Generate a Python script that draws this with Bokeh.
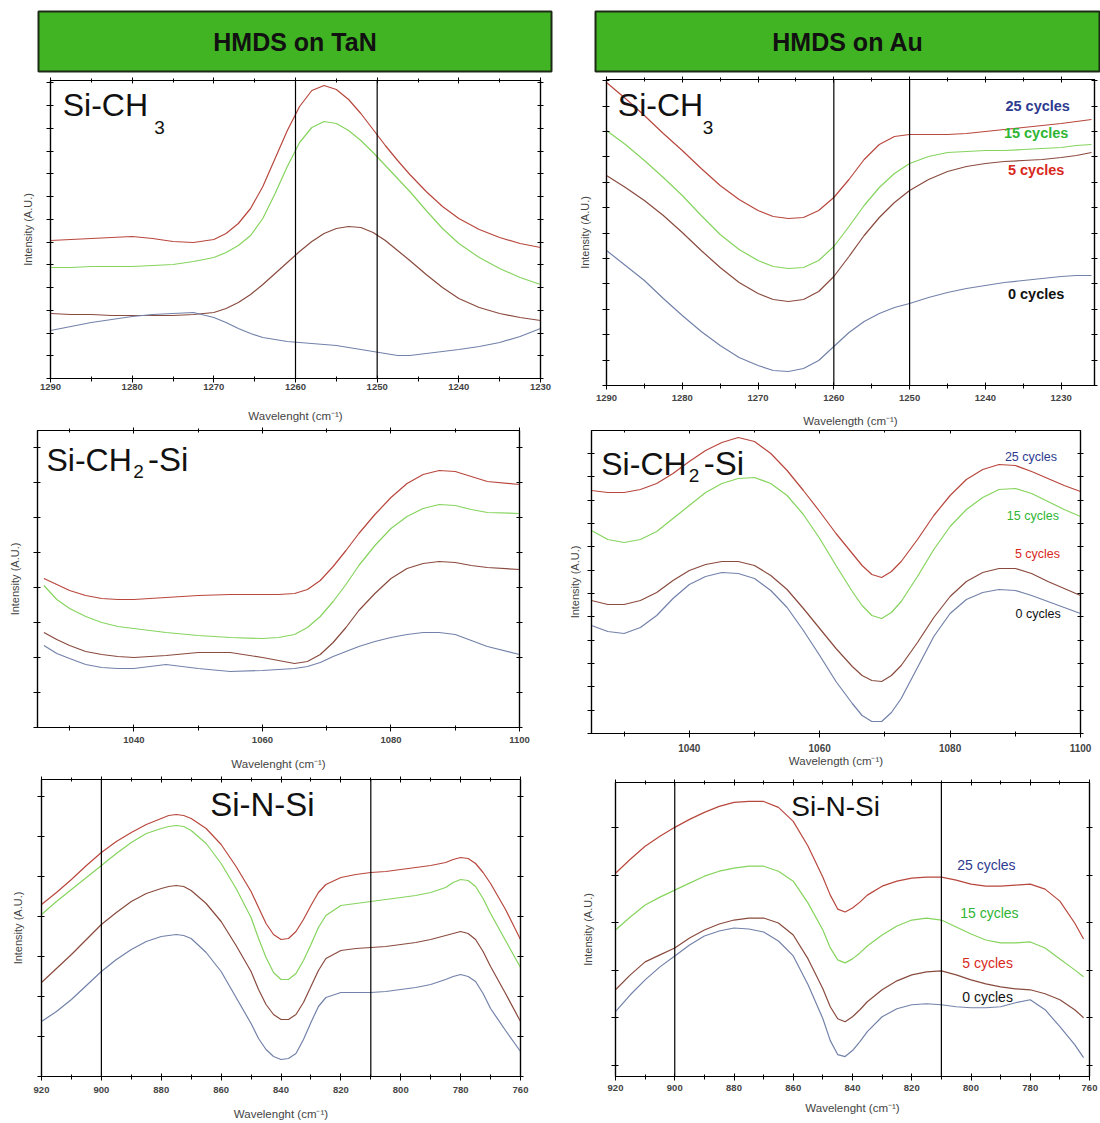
from bokeh.plotting import figure
from bokeh.layouts import column, row
from bokeh.models import Range1d, LinearAxis, FixedTicker, Span, Label, CustomLabelingPolicy
from bokeh.embed import file_html
from bokeh.resources import INLINE
import numpy as np

FONT = "Liberation Sans"
C25, C15, C5, C0 = "#b8473d", "#86d45e", "#8a4b3f", "#7382aa"
LBL25, LBL15, LBL5, LBL0 = "#2e3b8f", "#2fb534", "#d8281c", "#111111"
GREEN = "#41b423"

series_names = ["25 cycles", "15 cycles", "5 cycles", "0 cycles"]

# ---------- Panel 1 : Si-CH3 on TaN ----------
p1_wn = [1290, 1287.5, 1285, 1282.5, 1280, 1277.5, 1275, 1272.5, 1270, 1268.5, 1267, 1265.5, 1264, 1262.5, 1261, 1259.5,
         1258, 1256.5, 1255, 1253.5, 1252, 1250.5, 1249, 1247.5, 1246, 1244, 1242, 1240, 1237.5, 1235, 1232.5, 1230]
p1_25 = [138, 139, 140, 141, 142, 140, 137, 136, 139, 145, 155, 170, 192, 220, 248, 272,
         288, 293, 289, 279, 265, 249, 233, 218, 204, 187, 172, 160, 149, 141, 135, 131]
p1_15 = [111, 111, 112, 112, 112, 113, 114, 117, 121, 126, 133, 143, 160, 185, 212, 236,
         251, 257, 255, 248, 238, 226, 213, 200, 187, 168, 150, 135, 121, 110, 101, 94]
p1_5 = [65, 64, 64, 63, 63, 63, 63, 64, 66, 70, 76, 84, 94, 105, 116, 127,
        137, 145, 150, 152, 151, 146, 138, 128, 118, 104, 91, 80, 71, 65, 61, 58]
p1_0 = [48, 52, 56, 59, 62, 64, 65, 66, 61, 56, 50, 45, 41, 39, 37, 36,
        35, 34, 33, 31, 29, 27, 25, 23, 23, 25, 27, 29, 32, 36, 42, 50]

# ---------- Panel 2 : Si-CH3 on Au ----------
p2_wn = [1290, 1287.5, 1285, 1282.5, 1280, 1277.5, 1275, 1272.5, 1270, 1268, 1266, 1264, 1262, 1260, 1258, 1256, 1254,
         1252, 1250, 1247.5, 1245, 1242.5, 1240, 1237.5, 1235, 1232.5, 1230, 1228, 1226]
p2_25 = [303, 287, 270, 252, 235, 217, 200, 186, 175, 169, 167, 168, 175, 188, 206, 226, 241,
         249, 251, 251, 251, 252, 254, 256, 258, 260, 262, 264, 266]
p2_15 = [255, 241, 225, 208, 190, 170, 151, 136, 125, 119, 117, 118, 125, 139, 159, 180, 198,
         212, 222, 229, 233, 234, 235, 235, 236, 237, 238, 240, 241]
p2_5 = [210, 198, 185, 170, 153, 135, 118, 103, 92, 86, 84, 86, 94, 109, 129, 150, 168,
        183, 195, 206, 214, 219, 222, 224, 225, 226, 228, 230, 233]
p2_0 = [135, 120, 105, 87, 70, 54, 40, 28, 20, 15, 14, 17, 25, 39, 53, 64, 72,
        78, 82, 88, 93, 97, 100, 103, 105, 107, 109, 110, 110]

# ---------- Panel 3 : Si-CH2-Si on TaN ----------
p3_wn = [1026, 1028, 1030, 1032.5, 1035, 1037.5, 1040, 1045, 1050, 1055, 1060, 1062.5, 1065, 1067, 1069, 1071, 1073,
         1075, 1077.5, 1080, 1082.5, 1085, 1087.5, 1090, 1092.5, 1095, 1100]
p3_25 = [149, 143, 137, 132, 129, 128, 128, 130, 132, 133, 133, 133, 134, 138, 147, 161, 177,
         194, 213, 230, 244, 253, 257, 256, 251, 246, 243]
p3_15 = [142, 128, 119, 111, 105, 101, 99, 95, 92, 90, 89, 90, 93, 100, 111, 126, 143,
         162, 182, 199, 211, 219, 223, 222, 218, 215, 214]
p3_5 = [95, 88, 82, 76, 73, 71, 70, 72, 75, 75, 70, 67, 64, 66, 73, 85, 100,
        117, 134, 149, 159, 164, 166, 165, 162, 160, 158]
p3_0 = [82, 74, 69, 63, 60, 59, 59, 63, 59, 56, 57, 58, 59, 61, 65, 71, 76,
        81, 86, 90, 93, 95, 95, 93, 87, 81, 73]

# ---------- Panel 4 : Si-CH2-Si on Au ----------
p4_wn = [1025, 1027.5, 1030, 1032.5, 1035, 1037.5, 1040, 1042.5, 1045, 1047.5, 1050, 1052.5, 1055, 1057.5, 1060, 1062.5,
         1065, 1066.5, 1068, 1069.5, 1071, 1072.5, 1075, 1077.5, 1080, 1082.5, 1085, 1087.5, 1090, 1092.5, 1095, 1097.5, 1100]
p4_25 = [243, 241, 241, 244, 250, 260, 272, 283, 291, 296, 292, 280, 263, 243, 222, 200,
         180, 168, 159, 156, 162, 172, 194, 218, 238, 254, 264, 269, 268, 262, 255, 248, 242]
p4_15 = [203, 194, 191, 194, 202, 215, 228, 241, 250, 255, 256, 250, 238, 219, 195, 168,
         142, 128, 118, 115, 121, 132, 157, 184, 207, 224, 236, 244, 245, 240, 232, 224, 217]
p4_5 = [133, 129, 129, 133, 141, 153, 163, 169, 172, 172, 168, 158, 144, 125, 105, 85,
        67, 58, 53, 52, 58, 68, 91, 116, 137, 152, 161, 165, 165, 160, 152, 145, 138]
p4_0 = [108, 102, 100, 106, 118, 135, 149, 157, 161, 160, 155, 143, 126, 103, 78, 52,
        30, 18, 12, 12, 21, 35, 66, 97, 120, 134, 141, 144, 143, 138, 132, 126, 120]

# ---------- Panel 5 : Si-N-Si on TaN ----------
p5_wn = [920, 915, 910, 905, 900, 895, 890, 885, 880, 877.5, 875, 872.5, 870, 865, 860, 855, 850, 847.5, 845, 842.5,
         840, 837.5, 835, 832.5, 830, 827.5, 825, 820, 815, 810, 805, 800, 795, 790, 785, 782.5, 780, 777.5, 775,
         772.5, 770, 765, 760]
p5_25 = [172, 184, 197, 211, 224, 235, 244, 252, 258, 261, 262, 261, 258, 248, 232, 210, 185, 169, 153, 142,
         137, 138, 145, 157, 171, 184, 192, 199, 202, 204, 205, 207, 209, 211, 214, 217, 219, 218, 213,
         204, 193, 167, 137]
p5_15 = [162, 175, 187, 199, 211, 223, 234, 243, 248, 250, 251, 250, 246, 233, 213, 188, 159, 138, 119, 104,
         97, 97, 103, 116, 132, 149, 161, 171, 173, 175, 177, 179, 181, 184, 189, 194, 197, 196, 190,
         178, 163, 136, 109]
p5_5 = [94, 108, 122, 137, 152, 164, 175, 183, 188, 190, 191, 190, 186, 173, 155, 131, 105, 87, 72, 62,
        57, 57, 62, 74, 90, 106, 118, 126, 128, 129, 130, 132, 134, 137, 141, 143, 145, 143, 137,
        125, 110, 83, 55]
p5_0 = [55, 65, 77, 91, 105, 117, 127, 135, 140, 141, 142, 141, 138, 124, 105, 79, 53, 38, 27, 20,
        17, 18, 23, 37, 54, 70, 79, 84, 84, 84, 85, 87, 89, 92, 97, 100, 102, 100, 95,
        83, 68, 46, 25]

# ---------- Panel 6 : Si-N-Si on Au ----------
p6_wn = [920, 915, 910, 905, 900, 895, 890, 885, 880, 875, 870, 865, 860, 855, 850, 847.5, 845, 842.5, 840, 837.5,
         835, 830, 825, 820, 815, 810, 805, 800, 795, 790, 785, 780, 775, 770, 765, 762]
p6_25 = [204, 218, 231, 241, 250, 258, 265, 271, 275, 276, 276, 270, 256, 231, 200, 182, 168, 165, 169, 175,
         182, 191, 196, 199, 200, 200, 197, 193, 191, 191, 192, 193, 188, 176, 154, 138]
p6_15 = [147, 160, 172, 180, 187, 194, 201, 206, 209, 211, 211, 206, 196, 174, 147, 129, 117, 114, 118, 124,
         131, 142, 151, 157, 159, 157, 150, 143, 137, 134, 134, 135, 129, 118, 107, 100]
p6_5 = [87, 102, 115, 122, 129, 139, 147, 153, 157, 159, 159, 154, 142, 118, 88, 70, 58, 55, 60, 67,
        75, 87, 96, 102, 105, 106, 102, 97, 93, 90, 88, 87, 83, 77, 67, 59]
p6_0 = [65, 82, 97, 110, 121, 132, 141, 146, 149, 148, 145, 136, 121, 92, 58, 36, 22, 20, 26, 35,
        45, 60, 68, 72, 73, 72, 70, 69, 69, 70, 74, 77, 67, 50, 32, 19]

# tick labels
ch3_ticks = [1290, 1280, 1270, 1260, 1250, 1240, 1230]
ch3_minor = [1285, 1275, 1265, 1255, 1245, 1235]
ch2_ticks = [1040, 1060, 1080, 1100]
ch2_minor = [1030, 1050, 1070, 1090]
sin_ticks = [920, 900, 880, 860, 840, 820, 800, 780, 760]
sin_minor = [910, 890, 870, 850, 830, 810, 790, 770]
ch3_marks = [1260, 1250]
sin_marks = [900, 810]

NO_LABELS = CustomLabelingPolicy(code="return []")


def no_align(p):
    if "frame_align" in p.properties():
        p.frame_align = False


def header(text, w, left, right):
    p = figure(width=w, height=76, x_range=Range1d(0, 1), y_range=Range1d(0, 1),
               output_backend="svg", toolbar_location=None,
               x_axis_location=None, y_axis_location=None,
               min_border_left=left, min_border_right=right,
               min_border_top=11, min_border_bottom=5)
    no_align(p)
    p.xgrid.visible = False
    p.ygrid.visible = False
    p.background_fill_color = GREEN
    p.border_fill_color = "white"
    p.outline_line_color = "#1d2b16"
    p.outline_line_width = 2
    p.add_layout(Label(x=0.5, y=0.5, text=text, text_align="center", text_baseline="middle",
                       text_font=FONT, text_font_size="25px", text_font_style="bold",
                       text_color="#111111"))
    return p


def style_axis(ax, ticker, tin=3, tout=4):
    ax.ticker = ticker
    ax.axis_line_color = "black"
    ax.axis_line_width = 1.2
    ax.major_tick_line_color = "black"
    ax.minor_tick_line_color = "black"
    ax.major_tick_in = tin
    ax.major_tick_out = tout
    ax.minor_tick_in = 2
    ax.minor_tick_out = max(tout - 1, 0)


def hide_labels(ax):
    ax.major_label_text_font_size = "0px"
    ax.major_label_standoff = 0
    ax.major_label_policy = NO_LABELS


def panel(w, h, left, right, top, bottom, xr, yr, wn, ys, xticks, xminor, ystep, yoff,
          xlabel, tick_standoff, label_standoff, ylabel_standoff, ylabel_size,
          tick_font="9.5px", top_out=3):
    p = figure(width=w, height=h, x_range=Range1d(*xr), y_range=Range1d(*yr),
               output_backend="svg", toolbar_location=None,
               min_border_left=left, min_border_right=right,
               min_border_top=top, min_border_bottom=bottom)
    no_align(p)
    p.xgrid.visible = False
    p.ygrid.visible = False
    p.outline_line_color = "black"
    p.outline_line_width = 1.2
    p.background_fill_color = "white"
    xt = FixedTicker(ticks=xticks, minor_ticks=xminor)
    yt = FixedTicker(ticks=list(np.arange(yoff, yr[1], ystep)), minor_ticks=[])
    bx = p.xaxis[0]
    style_axis(bx, xt)
    bx.major_label_text_font = FONT
    bx.major_label_text_font_size = tick_font
    bx.major_label_text_font_style = "bold"
    bx.major_label_standoff = tick_standoff
    bx.axis_label = xlabel
    bx.axis_label_text_font = FONT
    bx.axis_label_text_font_size = "11.5px"
    bx.axis_label_text_font_style = "normal"
    bx.axis_label_standoff = label_standoff
    ly = p.yaxis[0]
    style_axis(ly, yt)
    hide_labels(ly)
    ly.axis_label = "Intensity (A.U.)"
    ly.axis_label_text_font = FONT
    ly.axis_label_text_font_size = ylabel_size
    ly.axis_label_text_font_style = "normal"
    ly.axis_label_standoff = ylabel_standoff
    ta = LinearAxis()
    style_axis(ta, xt, tin=3, tout=top_out)
    hide_labels(ta)
    p.add_layout(ta, "above")
    ra = LinearAxis()
    style_axis(ra, yt, tin=3, tout=3)
    hide_labels(ra)
    p.add_layout(ra, "right")
    for y, c in zip(ys, [C25, C15, C5, C0]):
        p.line(wn, y, line_color=c, line_width=1.2)
    return p


def title(p, parts):
    for txt, x, y, size in parts:
        p.add_layout(Label(x=x, y=y, text=txt, text_font=FONT, text_font_size=size,
                           text_color="#111111", text_baseline="alphabetic", text_align="left"))


def cycle_labels(p, xs, ys, size, bold):
    for txt, x, y, c in zip(series_names, xs, ys, [LBL25, LBL15, LBL5, LBL0]):
        p.add_layout(Label(x=x, y=y, text=txt, text_font=FONT, text_font_size=size,
                           text_font_style="bold" if bold else "normal",
                           text_color=c, text_align="center", text_baseline="middle"))


def marks(p, locs):
    for loc in locs:
        p.add_layout(Span(location=loc, dimension="height", line_color="black", line_width=1.2))


# ---- build ----
hL = header("HMDS on TaN", 565, 38, 14)
hR = header("HMDS on Au", 535, 30, 0)

P1 = panel(565, 349, 50, 25, 4, 47, (1290, 1230), (0, 298), p1_wn, [p1_25, p1_15, p1_5, p1_0],
           ch3_ticks, ch3_minor, 22.75, 0, "Wavelenght (cm\u207b\u00b9)", 1, 17, 13, "11px")
marks(P1, ch3_marks)
title(P1, [("Si-CH", 1288.5, 274, "32px"), ("3", 1277.3, 251, "19px")])

P2 = panel(535, 353, 41, 6, 3, 44, (1290, 1225.6), (0, 306), p2_wn, [p2_25, p2_15, p2_5, p2_0],
           ch3_ticks, ch3_minor, 25.4, 0, "Wavelength (cm\u207b\u00b9)", 5, 11, 12, "11px")
marks(P2, ch3_marks)
title(P2, [("Si-CH", 1288.5, 281, "32px"), ("3", 1277.3, 258, "19px")])
cycle_labels(P2, [1233.1, 1233.3, 1233.3, 1233.3], [280, 253, 216, 92], "14.5px", True)

P3 = panel(565, 348, 37, 46, 5, 46, (1025, 1100), (0, 297), p3_wn, [p3_25, p3_15, p3_5, p3_0],
           ch2_ticks, ch2_minor, 35, 0, "Wavelenght (cm\u207b\u00b9)", 5, 12, 13, "11px")
title(P3, [("Si-CH", 1026.4, 268, "32px"), ("2", 1039.9, 256, "19px"), ("-Si", 1042.2, 268, "33px")])

P4 = panel(535, 341, 26, 20, 1, 37, (1025, 1100), (0, 303), p4_wn, [p4_25, p4_15, p4_5, p4_0],
           ch2_ticks, ch2_minor, 23.35, 0, "Wavelength (cm\u207b\u00b9)", 6, 0, 7, "11px",
           tick_font="10px", top_out=0)
title(P4, [("Si-CH", 1026.5, 270, "32px"), ("2", 1039.9, 258, "19px"), ("-Si", 1042.2, 270, "33px")])
cycle_labels(P4, [1092.4, 1092.7, 1093.4, 1093.5], [277, 218, 180, 120], "12.5px", False)

P5 = panel(565, 350, 41, 45, 6, 47, (920, 760), (0, 297), p5_wn, [p5_25, p5_15, p5_5, p5_0],
           sin_ticks, sin_minor, 40, 0, "Wavelenght (cm\u207b\u00b9)", 6, 12, 14, "11px")
marks(P5, sin_marks)
P5.add_layout(Label(x=846.2, y=272, text="Si-N-Si", text_font=FONT, text_font_size="33px",
                    text_color="#111111", text_align="center", text_baseline="alphabetic"))

P6 = panel(535, 353, 50, 11, 12, 47, (920, 760), (0, 295), p6_wn, [p6_25, p6_15, p6_5, p6_0],
           sin_ticks, sin_minor, 47.6, 11.5, "Wavelenght (cm\u207b\u00b9)", 4, 8, 18, "11px")
marks(P6, sin_marks)
P6.add_layout(Label(x=845.7, y=271, text="Si-N-Si", text_font=FONT, text_font_size="28px",
                    text_color="#111111", text_align="center", text_baseline="alphabetic"))
cycle_labels(P6, [794.8, 793.8, 794.4, 794.4], [212, 164, 114, 80], "14px", False)

layout = row(column(hL, P1, P3, P5, spacing=0), column(hR, P2, P4, P6, spacing=0), spacing=0)

with open("out.html", "w") as f:
    f.write(file_html(layout, INLINE, title="HMDS FTIR"))
